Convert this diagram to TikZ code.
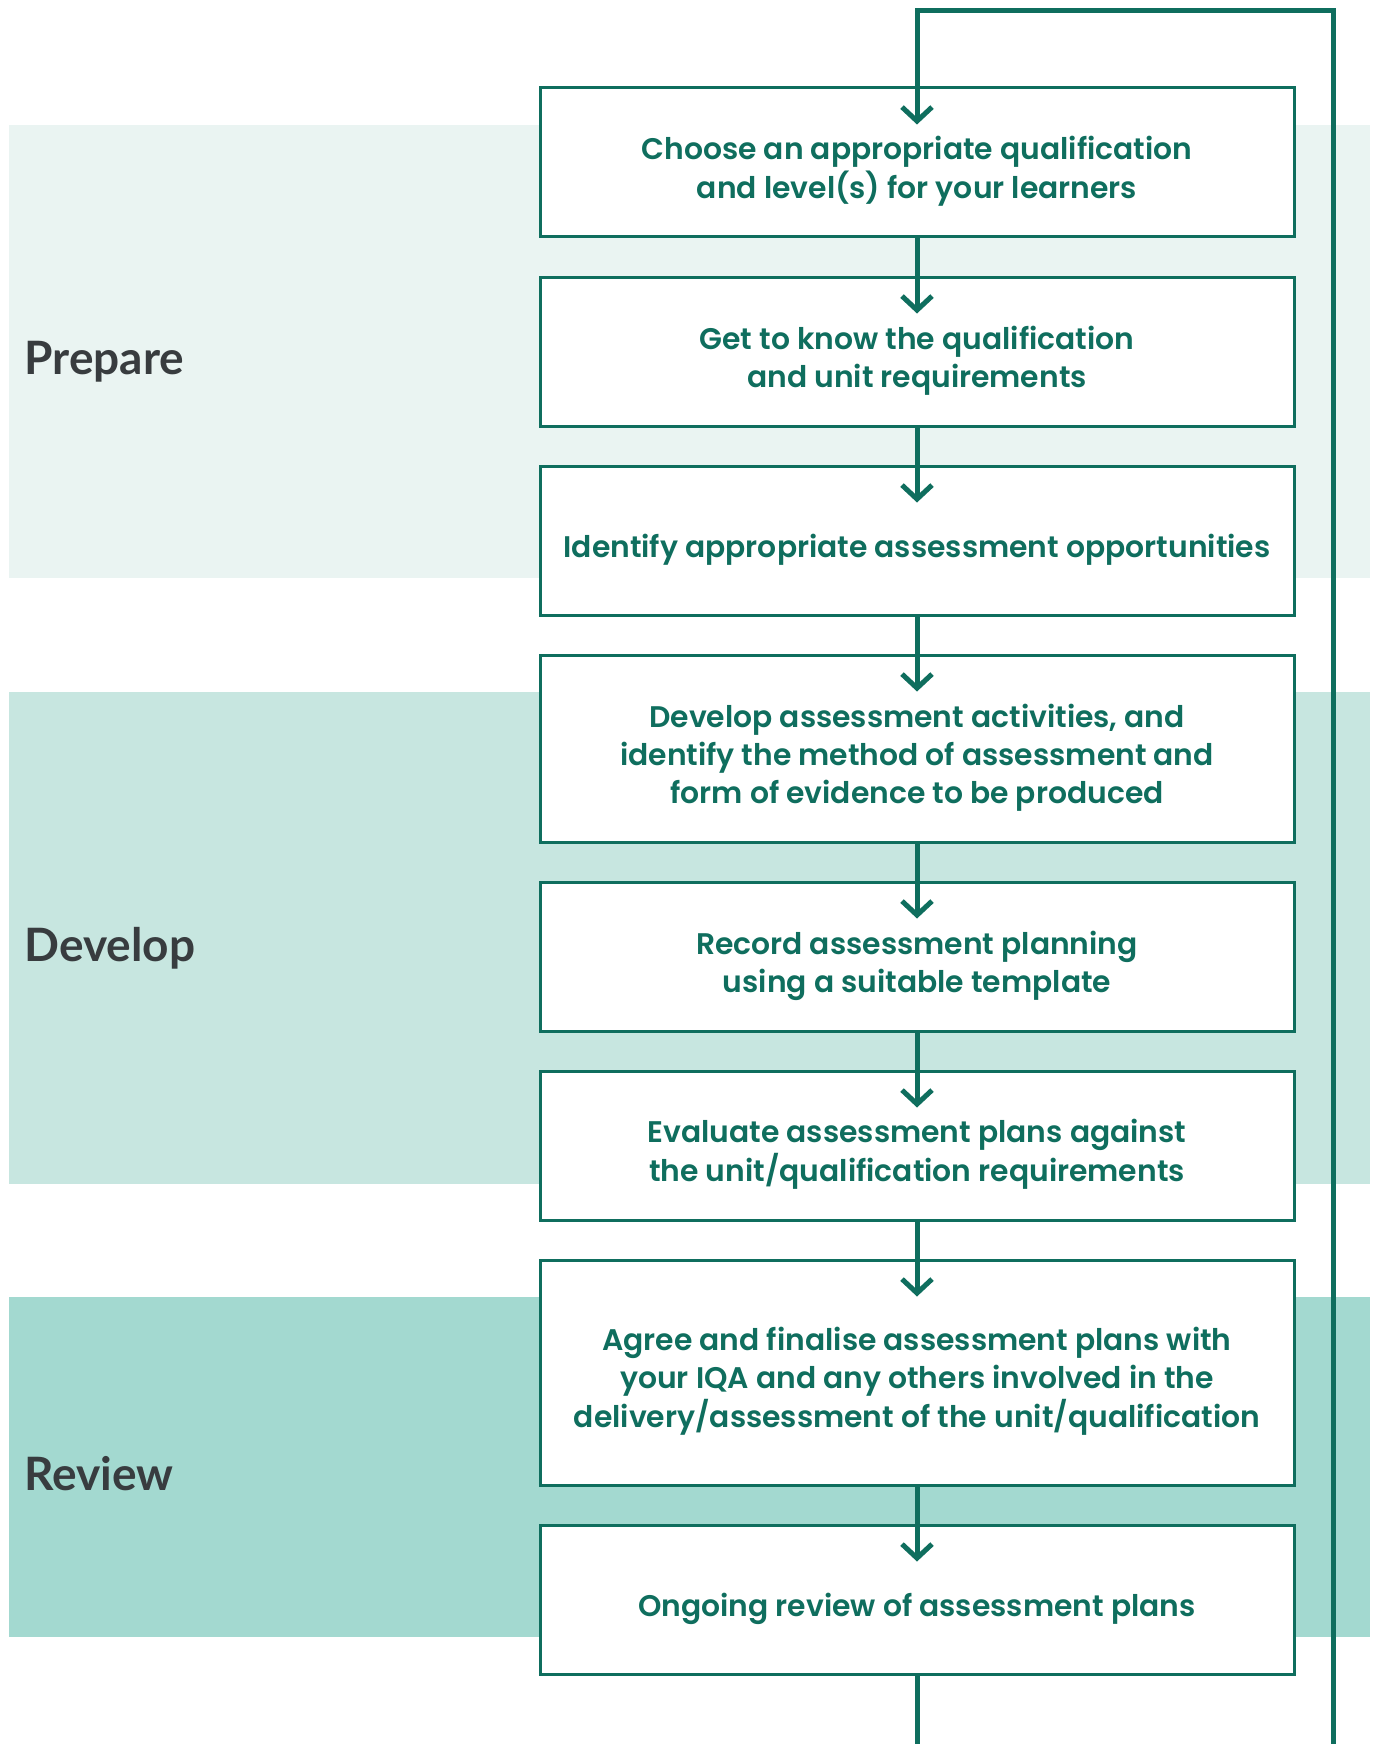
\documentclass[tikz,border=0pt]{standalone}
\usepackage{fontspec}
\setmainfont{Poppins}[BoldFont={Poppins SemiBold}]
\newfontfamily\phasefont{Lato}
\usetikzlibrary{arrows.meta}
\definecolor{qgreen}{HTML}{0F6E5E}
\definecolor{qgrey}{HTML}{383C3F}
\definecolor{bandA}{HTML}{EAF4F2}
\definecolor{bandB}{HTML}{C7E6E0}
\definecolor{bandC}{HTML}{A3D9D0}
\newcommand{\steptext}[1]{\raisebox{-4.5pt}[\height][\depth]{\begin{tabular}{@{}c@{}}#1\end{tabular}}}
\begin{document}
\begin{tikzpicture}[x=.5pt,y=-.5pt,
  stepbox/.style={draw=qgreen,line width=1.5pt,fill=white,minimum width=377pt,
    minimum height=74.5pt,inner sep=0pt,align=center,text=qgreen,
    font=\bfseries\fontsize{14.9}{19}\selectfont},
  phase/.style={anchor=west,inner sep=0pt,text=qgrey,
    font=\phasefont\bfseries\fontsize{23}{27}\selectfont},
  flow/.style={draw=qgreen,line width=2.5pt,-{Straight Barb[length=7pt,width=15pt]}}]
  \useasboundingbox (0,0) rectangle (1376,1744);
  % phase bands
  \fill[bandA] (9,125) rectangle (1370,578);
  \fill[bandB] (9,692) rectangle (1370,1184);
  \fill[bandC] (9,1297) rectangle (1370,1637);
  \node[phase] (prepare) at (24,362) {Prepare};
  \node[phase] (develop) at (24,948) {Develop};
  \node[phase] (review) at (24,1474) {Review};
  % steps
  \node[stepbox] (choose) at (917,162.5) {\steptext{Choose an appropriate qualification\\and level(s) for your learners}};
  \node[stepbox] (know) at (917,351.5) {\steptext{Get to know the qualification\\and unit requirements}};
  \node[stepbox] (identify) at (917,540.5) {\steptext{Identify appropriate assessment opportunities}};
  \node[stepbox,minimum height=93.5pt] (activities) at (917,748.5) {\steptext{Develop assessment activities, and\\identify the method of assessment and\\form of evidence to be produced}};
  \node[stepbox] (record) at (917,956.5) {\steptext{Record assessment planning\\using a suitable template}};
  \node[stepbox] (evaluate) at (917,1145.5) {\steptext{Evaluate assessment plans against\\the unit/qualification requirements}};
  \node[stepbox,minimum height=112.5pt] (agree) at (917,1372.5) {\steptext{Agree and finalise assessment plans with\\your IQA and any others involved in the\\delivery/assessment of the unit/qualification}};
  \node[stepbox] (ongoing) at (917,1599.5) {\steptext{Ongoing review of assessment plans}};
  % connectors
  \draw[flow] (choose.south) -- ([yshift=-19pt]know.north);
  \draw[flow] (know.south) -- ([yshift=-19pt]identify.north);
  \draw[flow] (identify.south) -- ([yshift=-19pt]activities.north);
  \draw[flow] (activities.south) -- ([yshift=-19pt]record.north);
  \draw[flow] (record.south) -- ([yshift=-19pt]evaluate.north);
  \draw[flow] (evaluate.south) -- ([yshift=-19pt]agree.north);
  \draw[flow] (agree.south) -- ([yshift=-19pt]ongoing.north);
  % loop back to the start
  \coordinate (loopout) at (917,1744);
  \coordinate (loopin) at (1333,1744);
  \coordinate (looptop) at (917,11);
  \draw[qgreen,line width=2.5pt] (ongoing.south) -- (loopout);
  \draw[flow] (loopin) |- (looptop) -- ([yshift=-19pt]choose.north);
\end{tikzpicture}
\end{document}
